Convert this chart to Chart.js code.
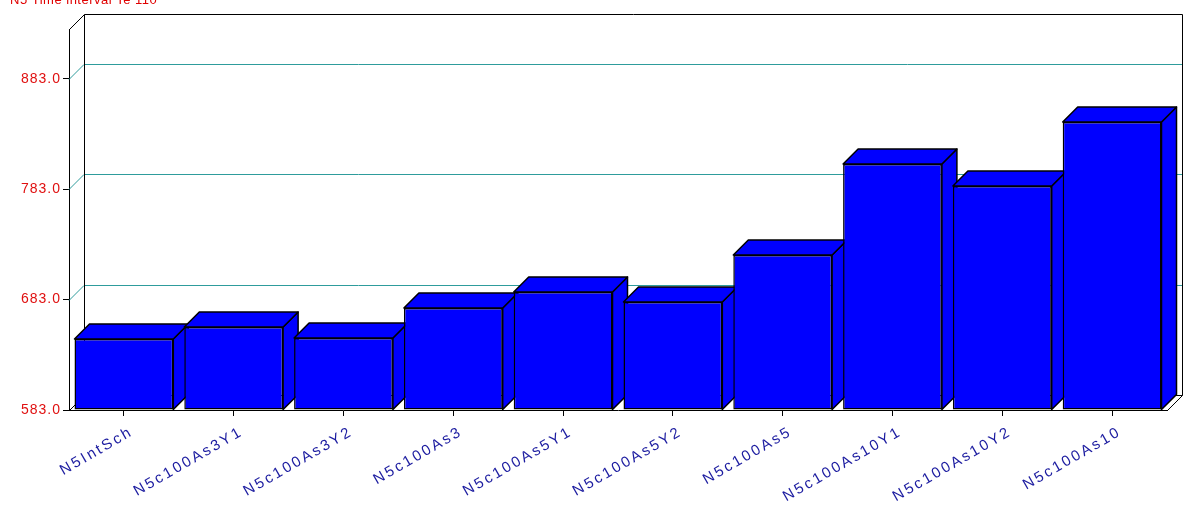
<!DOCTYPE html>
<html>
<head>
<meta charset="utf-8">
<script src="https://cdn.jsdelivr.net/npm/chart.js@4/dist/chart.umd.min.js"></script>
<style>
  html, body { margin: 0; padding: 0; background: #fff; }
</style>
</head>
<body>
<canvas id="chart" width="1183" height="508"></canvas>
<script>
const chartTitle = "N5 Time interval Te 110";
const categories = [
  "N5IntSch", "N5c100As3Y1", "N5c100As3Y2", "N5c100As3", "N5c100As5Y1",
  "N5c100As5Y2", "N5c100As5", "N5c100As10Y1", "N5c100As10Y2", "N5c100As10"
];
const values = [647.3, 658.2, 648.2, 675.4, 689.9, 680.8, 723.4, 805.8, 785.8, 843.8];
const yTicks = [583, 683, 783, 883];
const yMin = 583;
const yMax = 928;

const DEPTH = 15;
const BAR_BLUE = "#0000ff";
const GRID_TEAL = "#2e9c9c";

// wraps a scale's label drawing so its text gets extra letter spacing
function spaceLabels(scale, spacing) {
  if (scale._spaced) return;
  const orig = scale.drawLabels;
  scale.drawLabels = function (area) {
    const c = this.ctx;
    c.save();
    c.letterSpacing = spacing;
    orig.call(this, area);
    c.restore();
  };
  scale._spaced = true;
}

// back wall, floor, gridlines and the side/top faces of each bar
const box3d = {
  id: "box3d",
  beforeDraw(chart) {
    spaceLabels(chart.scales.x, "2.5px");
    spaceLabels(chart.scales.y, "1px");
  },
  beforeDatasetsDraw(chart) {
    const { ctx, chartArea: a, scales: { y } } = chart;
    ctx.save();
    ctx.lineWidth = 1;

    ctx.strokeStyle = GRID_TEAL;
    yTicks.slice(1).forEach((v) => {
      const py = Math.round(y.getPixelForValue(v)) + 0.5;
      ctx.beginPath();
      ctx.moveTo(a.left, py);
      ctx.lineTo(a.left + DEPTH, py - DEPTH);
      ctx.lineTo(a.right + DEPTH, py - DEPTH);
      ctx.stroke();
    });

    const L = Math.round(a.left) + 0.5, R = Math.round(a.right) + 0.5;
    const T = Math.round(a.top) + 0.5, B = Math.round(a.bottom) + 0.5;
    ctx.strokeStyle = "#000";
    ctx.beginPath();
    ctx.moveTo(L, T);
    ctx.lineTo(L + DEPTH, T - DEPTH);
    ctx.lineTo(R + DEPTH, T - DEPTH);
    ctx.lineTo(R + DEPTH, B - DEPTH);
    ctx.lineTo(R, B);
    ctx.moveTo(L + DEPTH, T - DEPTH);
    ctx.lineTo(L + DEPTH, B - DEPTH);
    ctx.lineTo(R + DEPTH, B - DEPTH);
    ctx.moveTo(L, B);
    ctx.lineTo(L + DEPTH, B - DEPTH);
    ctx.stroke();

    ctx.fillStyle = BAR_BLUE;
    ctx.lineWidth = 1.5;
    ctx.lineJoin = "round";
    chart.getDatasetMeta(0).data.forEach((bar) => {
      const l = bar.x - bar.width / 2;
      const r = bar.x + bar.width / 2;
      const t = bar.y;
      const b = Math.min(bar.base, a.bottom);
      ctx.beginPath();
      ctx.moveTo(r, t);
      ctx.lineTo(r + DEPTH, t - DEPTH);
      ctx.lineTo(r + DEPTH, b - DEPTH);
      ctx.lineTo(r, b);
      ctx.closePath();
      ctx.fill();
      ctx.stroke();
      ctx.beginPath();
      ctx.moveTo(l, t);
      ctx.lineTo(l + DEPTH, t - DEPTH);
      ctx.lineTo(r + DEPTH, t - DEPTH);
      ctx.lineTo(r, t);
      ctx.closePath();
      ctx.fill();
      ctx.stroke();
    });
    ctx.restore();
  },
  afterDraw(chart) {
    const ctx = chart.ctx;
    ctx.save();
    ctx.fillStyle = "#e00000";
    ctx.font = "13px 'Liberation Sans', Arial, sans-serif";
    ctx.textBaseline = "alphabetic";
    ctx.letterSpacing = "0.5px";
    ctx.fillText(chartTitle, 10, 4);
    ctx.restore();
  }
};

document.addEventListener("DOMContentLoaded", () => {
  const ctx = document.getElementById("chart").getContext("2d");
  new Chart(ctx, {
    type: "bar",
    data: {
      labels: categories,
      datasets: [
        {
          data: values,
          base: yMin,
          backgroundColor: BAR_BLUE,
          borderColor: "#000",
          borderWidth: 1.5,
          borderSkipped: false,
          barPercentage: 0.9,
          categoryPercentage: 1.0
        }
      ]
    },
    options: {
      responsive: false,
      animation: false,
      layout: { padding: { top: 29, right: 16, left: 0, bottom: 0 } },
      plugins: {
        legend: { display: false },
        tooltip: { enabled: false }
      },
      scales: {
        x: {
          afterFit: (scale) => { scale.height = 98; },
          grid: {
            offset: false,
            drawOnChartArea: false,
            tickLength: 6,
            color: "#000"
          },
          border: { display: true, color: "#000" },
          ticks: {
            autoSkip: false,
            minRotation: 30,
            maxRotation: 30,
            padding: 7,
            labelOffset: 8,
            color: "#1c1ca0",
            font: { family: "'Liberation Sans', Arial, sans-serif", size: 15 }
          }
        },
        y: {
          min: yMin,
          max: yMax,
          afterFit: (scale) => { scale.width = 69; },
          afterBuildTicks: (scale) => {
            scale.ticks = yTicks.map((v) => ({ value: v }));
          },
          grid: {
            drawOnChartArea: false,
            tickLength: 6,
            color: "#000"
          },
          border: { display: true, color: "#000" },
          ticks: {
            padding: 2,
            color: "#e01010",
            font: { family: "'Liberation Sans', Arial, sans-serif", size: 14 },
            callback: (v) => Number(v).toFixed(1)
          }
        }
      }
    },
    plugins: [box3d]
  });
});
</script>
</body>
</html>
